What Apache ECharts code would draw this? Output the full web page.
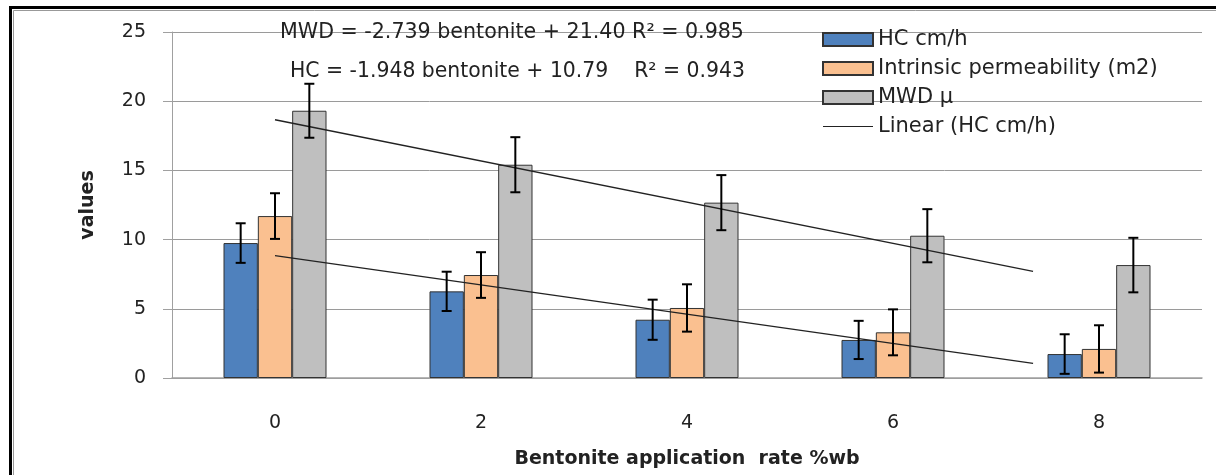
<!DOCTYPE html>
<html>
<head>
<meta charset="utf-8">
<script src="https://cdn.jsdelivr.net/npm/echarts@6/dist/echarts.min.js"></script>
<style>
  html, body { margin: 0; padding: 0; background: #fff; }
  #chart { width: 1216px; height: 475px; }
</style>
</head>
<body>
<div id="chart"></div>
<script>
// data
const categories = ["0", "2", "4", "6", "8"];
const hc = [9.75, 6.26, 4.21, 2.75, 1.73];
const permeability = [11.7, 7.44, 5.06, 3.3, 2.1];
const mwd = [19.31, 15.41, 12.67, 10.28, 8.16];
const hcErr = [1.43, 1.42, 1.45, 1.38, 1.43];
const permErr = [1.65, 1.65, 1.71, 1.66, 1.71];
const mwdErr = [1.95, 1.99, 1.99, 1.92, 1.97];
// trend lines: x in category-index units, y values at the two ends
const trendX = [0, 3.68];
const hcTrend = [8.84, 1.05];
const mwdTrend = [18.66, 7.7];
const yTicks = [0, 5, 10, 15, 20, 25];

const font = "DejaVu Sans";
const txt = "#222";

const chart = echarts.init(document.getElementById("chart"));

// error bars drawn as a custom series, one per bar series (k = 0,1,2)
function errorSeries(k, vals, errs) {
  return {
    type: "custom",
    name: "err" + k,
    xAxisIndex: 0,
    yAxisIndex: 0,
    z: 5,
    silent: true,
    data: vals.map((v, i) => [i, v, errs[i]]),
    renderItem(params, api) {
      const i = api.value(0);
      const v = api.value(1);
      const e = api.value(2);
      const band = api.size([1, 0])[0];
      const dx = (k - 1) * band * 0.5 / 3;
      const top = api.coord([i, v + e]);
      const bot = api.coord([i, v - e]);
      const x = top[0] + dx;
      const cap = 5;
      const style = { stroke: "#000", lineWidth: 2 };
      return {
        type: "group",
        children: [
          { type: "line", shape: { x1: x, y1: top[1], x2: x, y2: bot[1] }, style },
          { type: "line", shape: { x1: x - cap, y1: top[1], x2: x + cap, y2: top[1] }, style },
          { type: "line", shape: { x1: x - cap, y1: bot[1], x2: x + cap, y2: bot[1] }, style }
        ]
      };
    }
  };
}

function barSeries(name, vals, color) {
  return {
    name,
    type: "bar",
    xAxisIndex: 0,
    yAxisIndex: 0,
    data: vals,
    barGap: "0%",
    barCategoryGap: "50%",
    itemStyle: { color, borderColor: "#333", borderWidth: 1 }
  };
}

function trendSeries(name, ys) {
  return {
    name,
    type: "line",
    xAxisIndex: 1,
    yAxisIndex: 0,
    symbol: "none",
    z: 4,
    data: trendX.map((x, i) => [x, ys[i]]),
    lineStyle: { color: "#222", width: 1.3 },
    itemStyle: { color: "#222" }
  };
}

const option = {
  animation: false,
  textStyle: { fontFamily: font, color: txt },
  grid: { left: 172, right: 14, top: 32, bottom: 97 },
  legend: {
    orient: "vertical",
    left: 817,
    top: 24,
    itemWidth: 50,
    itemHeight: 13,
    itemGap: 8,
    data: [
      { name: "HC cm/h", icon: "rect" },
      { name: "Intrinsic permeability (m2)", icon: "rect" },
      { name: "MWD μ", icon: "rect" },
      { name: "Linear (HC cm/h)", icon: "path://M0,0 L100,0 L100,2 L0,2 Z",
        itemStyle: { color: "#222", borderWidth: 0 } }
    ],
    textStyle: { fontFamily: font, fontSize: 21, color: txt }
  },
  xAxis: [
    {
      type: "category",
      data: categories,
      name: "Bentonite application  rate %wb",
      nameLocation: "middle",
      nameGap: 72,
      nameTextStyle: { fontFamily: font, fontWeight: "bold", fontSize: 19, color: txt },
      axisLine: { lineStyle: { color: "#a0a0a0", width: 1.5 } },
      axisTick: { show: false },
      axisLabel: { fontSize: 19, color: txt, margin: 36 }
    },
    {
      type: "value",
      min: -0.5,
      max: 4.5,
      show: false
    }
  ],
  yAxis: {
    type: "value",
    min: 0,
    max: 25,
    interval: 5,
    name: "values",
    nameLocation: "middle",
    nameGap: 74,
    nameTextStyle: { fontFamily: font, fontWeight: "bold", fontSize: 19, color: txt },
    axisLine: { show: true, onZero: false, lineStyle: { color: "#a0a0a0" } },
    axisTick: { show: true, length: 9, lineStyle: { color: "#a0a0a0" } },
    axisLabel: { fontSize: 19, color: txt, margin: 26,
      formatter: v => yTicks.includes(v) ? String(v) : "" },
    splitLine: { lineStyle: { color: "#9a9a9a", width: 1 } }
  },
  graphic: [
    { type: "rect", left: 8, top: 5, silent: true, z: 100,
      shape: { width: 1230, height: 500 },
      style: { fill: "none", stroke: "#000", lineWidth: 3 } },
    { type: "rect", left: 11, top: 8, silent: true, z: 100,
      shape: { width: 1203, height: 500 },
      style: { fill: "none", stroke: "#999", lineWidth: 1 } },
    { type: "text", left: 280, top: 22, z: 50,
      style: { text: "MWD = -2.739 bentonite + 21.40 R² = 0.985", font: "20.6px " + font, fill: txt } },
    { type: "text", left: 290, top: 62, z: 50,
      style: { text: "HC = -1.948 bentonite + 10.79    R² = 0.943", font: "20.4px " + font, fill: txt } }
  ],
  series: [
    barSeries("HC cm/h", hc, "#4f81bd"),
    barSeries("Intrinsic permeability (m2)", permeability, "#fac090"),
    barSeries("MWD μ", mwd, "#bfbfbf"),
    errorSeries(0, hc, hcErr),
    errorSeries(1, permeability, permErr),
    errorSeries(2, mwd, mwdErr),
    trendSeries("Linear (HC cm/h)", hcTrend),
    trendSeries("Linear (MWD μ)", mwdTrend)
  ]
};

chart.setOption(option);
window.addEventListener("resize", () => chart.resize());
</script>
</body>
</html>
